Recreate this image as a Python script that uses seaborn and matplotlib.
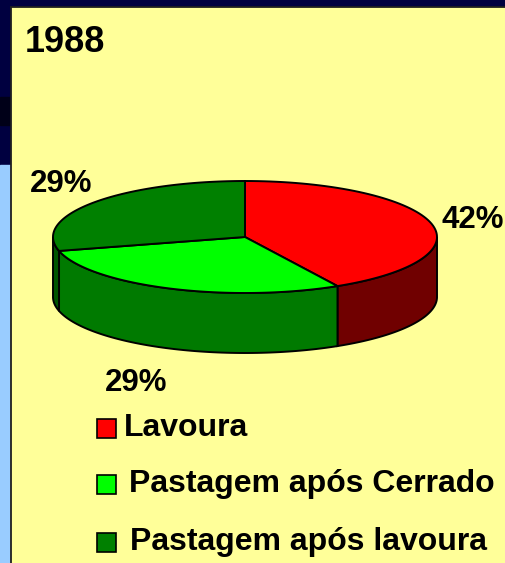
import numpy as np
import matplotlib
matplotlib.use("Agg")
import matplotlib.pyplot as plt
from matplotlib.patches import Polygon, Rectangle
import seaborn as sns

year = "1988"
categories = ["Lavoura", "Pastagem após Cerrado", "Pastagem após lavoura"]
shares = [42, 29, 29]
top_colors = ["#FF0000", "#00FF00", "#008000"]
side_colors = ["#700000", "#007A00", "#005500"]

sns.set_theme(style="white")
plt.rcParams["font.family"] = ["Liberation Sans", "DejaVu Sans"]
plt.rcParams["text.color"] = "black"

fig = plt.figure(figsize=(5.05, 5.63), dpi=100)
fig.patch.set_facecolor("#000040")
ax = fig.add_axes([0, 0, 1, 1])
ax.set_xlim(0, 505)
ax.set_ylim(563, 0)
ax.axis("off")

# slide backdrop + yellow panel
ax.add_patch(Rectangle((0, 0), 505, 563, color="#000040", zorder=0))
ax.add_patch(Rectangle((0, 165), 11, 400, color="#99CCFF", zorder=0))
ax.add_patch(Rectangle((0, 97), 11, 28, color="#000018", zorder=0))
ax.add_patch(Rectangle((10.5, 6.5), 500, 560, facecolor="#FFFF99",
                       edgecolor="#202020", lw=1.3, zorder=1))

# 3d pie geometry
cx, cy, rx, ry, depth = 245, 237, 192, 56, 60
fr = np.array(shares) / sum(shares)
bounds = 90 - 360 * np.concatenate([[0], np.cumsum(fr)])


def arc(a0, a1, n=80):
    a = np.radians(np.linspace(a0, a1, n))
    return np.column_stack([cx + rx * np.cos(a), cy - ry * np.sin(a)])


# side walls (front half only, angles between 0 and -180)
for i in range(len(shares)):
    hi, lo = bounds[i], bounds[i + 1]
    a0, a1 = min(hi, 0), max(lo, -180)
    if a0 <= a1:
        continue
    top = arc(a0, a1)
    bot = top[::-1] + [0, depth]
    ax.add_patch(Polygon(np.vstack([top, bot]), closed=True,
                         facecolor=side_colors[i], edgecolor="black",
                         lw=1.4, zorder=2))

# top face
for i in range(len(shares)):
    pts = np.vstack([[cx, cy], arc(bounds[i], bounds[i + 1])])
    ax.add_patch(Polygon(pts, closed=True, facecolor=top_colors[i],
                         edgecolor="black", lw=1.4, zorder=3))

lab = dict(fontsize=22.5, fontweight="bold", color="black", va="center", zorder=5)
ax.text(504, 220, f"{shares[0]}%", ha="right", **lab)
ax.text(105, 383, f"{shares[1]}%", ha="left", **lab)
ax.text(30, 184, f"{shares[2]}%", ha="left", **lab)

ax.text(25, 43, year, fontsize=26, fontweight="bold", ha="left",
        va="center", color="black", zorder=5)

# legend
rows = [428, 484, 542]
text_x = [124, 129, 130]
for name, col, y, tx in zip(categories, top_colors, rows, text_x):
    ax.add_patch(Rectangle((97, y - 9.5), 19, 19, facecolor=col,
                           edgecolor="black", lw=1.2, zorder=5))
    ax.text(tx, y, name, fontsize=23, fontweight="bold", ha="left",
            va="center", color="black", zorder=5)

fig.savefig("out.png", dpi=100, facecolor=fig.get_facecolor())
